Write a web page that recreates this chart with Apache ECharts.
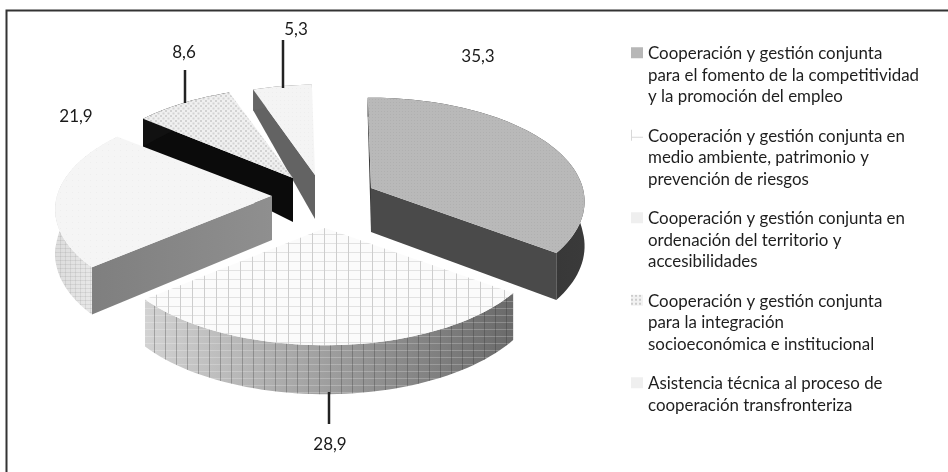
<!DOCTYPE html>
<html><head><meta charset="utf-8">
<style>html,body{margin:0;padding:0;background:#fff}#c{width:948px;height:472px}</style>
<script src="https://cdn.jsdelivr.net/npm/echarts@6/dist/echarts.min.js"></script>
</head><body><div id="c"></div>
<script>
const categories = [
  "Cooperación y gestión conjunta\npara el fomento de la competitividad\ny la promoción del empleo",
  "Cooperación y gestión conjunta en\nmedio ambiente, patrimonio y\nprevención de riesgos",
  "Cooperación y gestión conjunta en\nordenación del territorio y\naccesibilidades",
  "Cooperación y gestión conjunta\npara la integración\nsocioeconómica e institucional",
  "Asistencia técnica al proceso de\ncooperación transfronteriza"
];
const values = [35.3, 28.9, 21.9, 8.6, 5.3];

// ---- projection of the tilted, exploded pie (layout only) ----
const RX = 215, RY = 102, PERSP = 0.13, ROT = -1;
const apex = [[371,188],[325,228],[272,196],[293,178],[315,175]];
const xScale = [0.985,1,1,0.97,0.94];
const labelPos = [[478,57],[330,445],[76,117],[184,53],[296,30]];
const leaders = [null,[[329,392],[329,424]],null,[[185,70],[185,103]],[[283,40],[283,88]]];
const zOrder = [5,4,3,2,1];

function tile(w,h,bg,draw){
  const c=document.createElement('canvas');c.width=w;c.height=h;
  const g=c.getContext('2d');
  if(bg){g.fillStyle=bg;g.fillRect(0,0,w,h);}
  draw&&draw(g);
  return {image:c,repeat:'repeat'};
}
function grid(w,h,vc,hc){return g=>{g.fillStyle=hc;g.fillRect(0,0,w,1);g.fillStyle=vc;g.fillRect(0,0,1,h);};}
function dots(g,s,c){g.fillStyle=c;g.fillRect(0,0,s,s);}
const topFill = [
  tile(3,3,'#b9b9b9',g=>{g.fillStyle='#b0b0b0';g.fillRect(0,0,1,1);}),
  tile(12,9,'#fbfbfb',grid(12,9,'#cdcdcd','#e2e2e2')),
  tile(6,6,'#f5f5f5',g=>dots(g,1,'#eeeeee')),
  tile(5,5,'#f0f0f0',g=>{g.fillStyle='#d2d2d2';g.fillRect(0,0,2,2);g.fillRect(2.5,2.5,2,2);}),
  tile(4,4,'#f4f4f4',g=>dots(g,1,'#eeeeee'))
];
const lin = (a,b)=>({type:'linear',x:0,y:0,x2:1,y2:0,colorStops:[{offset:0,color:a},{offset:1,color:b}]});
const rimFill = [lin('#2b2b2b','#3a3a3a'), lin('#d2d2d2','#6a6a6a'), lin('#dcdcdc','#f0f0f0'), '#111', '#666'];
const rimTex = [null, tile(11,7,null,grid(11,7,'rgba(40,40,40,.28)','rgba(255,255,255,.22)')),
                tile(5,4,null,grid(5,4,'rgba(130,130,130,.16)','rgba(130,130,130,.16)')), null, null];
const cutFill = ['#4a4a4a', null, lin('#7f7f7f','#8f8f8f'), '#0b0b0b', '#636363'];
const cutAt = ['end', null, 'start', 'start', 'start'];
const swatch = ['#b7b7b7', tile(12,11,'#ffffff',grid(12,11,'#d8d8d8','#d8d8d8')), '#efefef',
                tile(4,4,'#f2f2f2',g=>{g.fillStyle='#cccccc';g.fillRect(0,0,2,2);}), '#efefef'];

const total = values.reduce((a,b)=>a+b,0);
const starts = values.map((_,i)=>values.slice(0,i).reduce((a,b)=>a+b,0)/total*360+ROT);

function proj(i,th,r){
  const t=th*Math.PI/180, a=r*Math.sin(t), b=r*Math.cos(t), w=1+PERSP*b;
  return [apex[i][0]+xScale[i]*RX*a/w, apex[i][1]-RY*b/w, b];
}
function depth(b){return b>=0?44-25*b:44-5*b;}
function down(p){return [p[0],p[1]+depth(p[2])];}
function arc(i,a0,a1){const o=[];const n=Math.max(2,Math.ceil((a1-a0)/2));
  for(let k=0;k<=n;k++)o.push(proj(i,a0+(a1-a0)*k/n,1));return o;}
const poly=(pts,fill,extra)=>Object.assign({type:'polygon',shape:{points:pts.map(p=>[p[0],p[1]])},style:{fill},silent:true},extra||{});

function renderSlice(params,api){
  const i=params.seriesIndex, v=api.value(0);
  const a0=starts[i], a1=a0+v/total*360, ch=[];
  const rim=arc(i,a0,a1), c=proj(i,0,0);
  const cutTh=cutAt[i]==='start'?a0:a1;
  if(cutAt[i]){
    const o=proj(i,cutTh,1);
    ch.push(poly([c,o,down(o),down(c)],cutFill[i]));
  }
  const rimPts=rim.concat(rim.slice().reverse().map(down));
  ch.push(poly(rimPts,rimFill[i]));
  if(rimTex[i])ch.push(poly(rimPts,rimTex[i]));
  if(i===0){const o=proj(i,a0,1);ch.push(poly([c,o,down(o),down(c)],'#3a3a3a'));}
  ch.push(poly([c].concat(rim),topFill[i]));
  if(leaders[i])ch.push({type:'line',shape:{x1:leaders[i][0][0],y1:leaders[i][0][1],x2:leaders[i][1][0],y2:leaders[i][1][1]},style:{stroke:'#222',lineWidth:2.5},silent:true});
  ch.push({type:'text',silent:true,style:{text:v.toFixed(1).replace('.',','),x:labelPos[i][0],y:labelPos[i][1],align:'center',verticalAlign:'middle',fontFamily:'Lato',fontSize:17,fill:'#1a1a1a'}});
  return {type:'group',children:ch};
}

const chart=echarts.init(document.getElementById('c'),null,{renderer:'canvas'});
chart.setOption({
  animation:false,
  backgroundColor:'#fff',
  graphic:[{type:'polyline',shape:{points:[[6.5,472],[6.5,10.5],[948,10.5]]},style:{stroke:'#333',lineWidth:2,fill:null},silent:true}],
  legend:{
    orient:'vertical',left:631,top:43,padding:0,itemGap:18,itemWidth:12,itemHeight:64,
    icon:'path://M0 4h12v11h-12z M0 0h0.01v0.01h-0.01z M0 64h0.01v0.01h-0.01z',
    selectedMode:false,
    formatter:n=>n.split('\n').length<3?n+'\n ':n,
    textStyle:{fontFamily:'Lato',fontSize:16.9,lineHeight:21.5,color:'#1e1e1e'},
    data:categories.map((name,i)=>({name,itemStyle:{color:swatch[i]}}))
  },
  series:categories.map((name,i)=>({
    type:'custom',name,coordinateSystem:'none',z:zOrder[i],
    data:[[values[i]]],renderItem:renderSlice,silent:true
  }))
});
</script></body></html>
